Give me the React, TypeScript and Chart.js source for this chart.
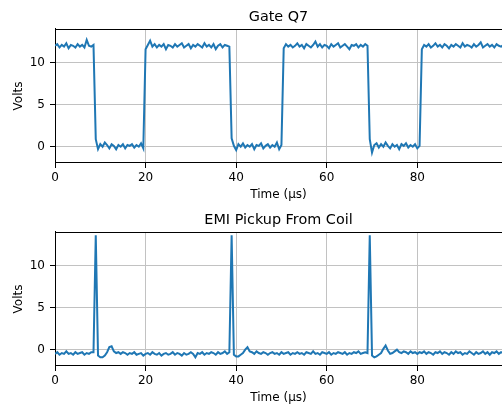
import React, { useEffect, useRef } from "react";
import { Chart, registerables } from "chart.js";

Chart.register(...registerables);

// Sample times (µs)
const TIME_US: number[] = [
  0, 0.5, 1, 1.5, 2, 2.5, 3, 3.5, 4, 4.5, 5, 5.5, 6, 6.5, 7, 7.5, 8, 8.5, 9, 9.5,
  10, 10.5, 11, 11.5, 12, 12.5, 13, 13.5, 14, 14.5, 15, 15.5, 16, 16.5, 17, 17.5, 18, 18.5, 19, 19.5,
  20, 20.5, 21, 21.5, 22, 22.5, 23, 23.5, 24, 24.5, 25, 25.5, 26, 26.5, 27, 27.5, 28, 28.5, 29, 29.5,
  30, 30.5, 31, 31.5, 32, 32.5, 33, 33.5, 34, 34.5, 35, 35.5, 36, 36.5, 37, 37.5, 38, 38.5, 39, 39.5,
  40, 40.5, 41, 41.5, 42, 42.5, 43, 43.5, 44, 44.5, 45, 45.5, 46, 46.5, 47, 47.5, 48, 48.5, 49, 49.5,
  50, 50.5, 51, 51.5, 52, 52.5, 53, 53.5, 54, 54.5, 55, 55.5, 56, 56.5, 57, 57.5, 58, 58.5, 59, 59.5,
  60, 60.5, 61, 61.5, 62, 62.5, 63, 63.5, 64, 64.5, 65, 65.5, 66, 66.5, 67, 67.5, 68, 68.5, 69, 69.5,
  70, 70.5, 71, 71.5, 72, 72.5, 73, 73.5, 74, 74.5, 75, 75.5, 76, 76.5, 77, 77.5, 78, 78.5, 79, 79.5,
  80, 80.5, 81, 81.5, 82, 82.5, 83, 83.5, 84, 84.5, 85, 85.5, 86, 86.5, 87, 87.5, 88, 88.5, 89, 89.5,
  90, 90.5, 91, 91.5, 92, 92.5, 93, 93.5, 94, 94.5, 95, 95.5, 96, 96.5, 97, 97.5, 98, 98.5, 99,
];

// Gate Q7 voltage (V)
const GATE_Q7: number[] = [
  12.0, 12.2, 11.8, 12.1, 11.9, 12.3, 11.7, 12.1, 12.0, 11.8, 12.2, 11.9, 12.1, 11.8, 12.7, 12.0, 11.9, 12.1, 0.9, -0.3,
  0.3, 0.0, 0.5, 0.2, -0.2, 0.3, 0.1, -0.3, 0.2, 0.0, 0.3, -0.2, 0.2, 0.1, 0.3, -0.1, 0.2, 0.0, 0.4, -0.2,
  11.6, 12.1, 12.6, 11.9, 12.2, 11.8, 12.1, 11.9, 12.2, 11.6, 12.1, 12.0, 11.8, 12.2, 11.9, 12.1, 12.3, 11.8, 12.0, 12.2,
  11.7, 12.1, 11.9, 12.2, 12.0, 11.8, 12.3, 11.9, 12.1, 11.8, 12.2, 11.6, 12.0, 12.2, 11.8, 12.1, 12.0, 11.9, 1.0, 0.1,
  -0.4, 0.3, 0.0, 0.4, -0.1, 0.2, 0.0, 0.3, -0.3, 0.2, 0.1, 0.4, -0.2, 0.1, 0.3, -0.1, 0.2, 0.0, 0.5, -0.3,
  0.2, 11.7, 12.2, 11.9, 12.1, 11.8, 12.0, 12.3, 11.9, 12.1, 11.7, 12.2, 12.0, 11.8, 12.1, 12.5, 11.9, 12.2, 11.8, 12.1,
  12.0, 11.7, 12.2, 11.9, 12.1, 12.3, 11.8, 12.0, 12.2, 11.9, 11.6, 12.1, 12.0, 12.2, 11.8, 12.1, 11.9, 12.2, 12.0, 0.9,
  -0.7, 0.2, 0.4, -0.1, 0.3, 0.0, 0.5, 0.1, -0.2, 0.3, 0.0, 0.2, -0.3, 0.3, 0.1, 0.4, -0.1, 0.2, 0.0, 0.3,
  -0.2, 0.1, 11.6, 12.1, 11.9, 12.2, 11.8, 12.0, 12.3, 11.9, 12.1, 11.8, 12.2, 12.0, 11.7, 12.1, 11.9, 12.2, 12.0, 11.8,
  12.3, 11.9, 12.1, 12.0, 11.8, 12.2, 11.9, 12.1, 12.4, 11.8, 12.0, 12.2, 11.9, 12.1, 11.8, 12.2, 12.0, 11.9, 12.1,
];

// EMI pickup from coil (V)
const EMI_PICKUP: number[] = [
  -0.5, -0.3, -0.6, -0.4, -0.5, -0.2, -0.5, -0.4, -0.6, -0.3, -0.5, -0.4, -0.3, -0.6, -0.4, -0.5, -0.3, -0.3, 13.6, -0.7,
  -0.9, -0.9, -0.7, -0.3, 0.3, 0.4, -0.2, -0.4, -0.3, -0.5, -0.3, -0.4, -0.6, -0.4, -0.5, -0.3, -0.6, -0.5, -0.4, -0.7,
  -0.5, -0.4, -0.6, -0.3, -0.5, -0.6, -0.4, -0.7, -0.5, -0.4, -0.6, -0.5, -0.3, -0.6, -0.4, -0.5, -0.7, -0.4, -0.6, -0.5,
  -0.3, -0.5, -0.9, -0.4, -0.5, -0.3, -0.6, -0.4, -0.5, -0.3, -0.4, -0.6, -0.3, -0.5, -0.4, -0.2, -0.5, -0.3, 13.6, -0.6,
  -0.8, -0.8, -0.6, -0.4, 0.0, 0.3, -0.2, -0.3, -0.5, -0.2, -0.4, -0.5, -0.3, -0.4, -0.6, -0.4, -0.3, -0.5, -0.4, -0.6,
  -0.3, -0.5, -0.4, -0.3, -0.6, -0.4, -0.5, -0.3, -0.5, -0.4, -0.6, -0.3, -0.4, -0.5, -0.2, -0.5, -0.4, -0.6, -0.3, -0.4,
  -0.5, -0.3, -0.6, -0.4, -0.5, -0.3, -0.4, -0.5, -0.3, -0.6, -0.4, -0.5, -0.3, -0.4, -0.2, -0.5, -0.4, -0.3, -0.4, 13.6,
  -0.7, -0.9, -0.8, -0.6, -0.4, 0.1, 0.5, -0.1, -0.5, -0.4, -0.2, 0.0, -0.3, -0.4, -0.2, -0.3, -0.5, -0.2, -0.4, -0.3,
  -0.5, -0.3, -0.4, -0.2, -0.5, -0.3, -0.4, -0.6, -0.3, -0.4, -0.2, -0.5, -0.3, -0.4, -0.6, -0.3, -0.5, -0.2, -0.4, -0.3,
  -0.6, -0.4, -0.5, -0.2, -0.4, -0.6, -0.3, -0.5, -0.4, -0.2, -0.5, -0.3, -0.6, -0.3, -0.4, -0.2, -0.5, -0.3, -0.4,
];

const X_TICKS = [0, 20, 40, 60, 80];
const Y_TICKS = [0, 5, 10];
const X_RANGE = [0, 98.7];
const Y_RANGE = [-1.94, 14.0];

const FONT = "'DejaVu Sans', sans-serif";
const LINE_COLOR = "#1f77b4";
const GRID_COLOR = "#c2c2c2";

const topSpine = {
  id: "topSpine",
  afterDraw(chart: any) {
    const { ctx, chartArea: a } = chart;
    ctx.save();
    ctx.strokeStyle = "#000";
    ctx.lineWidth = 1;
    ctx.beginPath();
    const y = Math.round(a.top) + 0.5;
    ctx.moveTo(a.left, y);
    ctx.lineTo(a.right, y);
    ctx.stroke();
    ctx.restore();
  },
};

function Panel({ title, values, height }: { title: string; values: number[]; height: number }) {
  const ref = useRef<HTMLCanvasElement | null>(null);
  useEffect(() => {
    if (!ref.current) return;
    const chart = new Chart(ref.current, {
      type: "line",
      data: {
        datasets: [
          {
            data: TIME_US.map((t, i) => ({ x: t, y: values[i] })),
            borderColor: LINE_COLOR,
            borderWidth: 2,
            pointRadius: 0,
            tension: 0,
            fill: false,
          },
        ],
      },
      options: {
        animation: false,
        responsive: false,
        devicePixelRatio: 1,
        layout: { padding: 0 },
        plugins: {
          legend: { display: false },
          tooltip: { enabled: false },
          title: {
            display: true,
            text: title,
            fullSize: false,
            color: "#000",
            font: { family: FONT, size: 14.4, weight: "normal" },
            padding: { top: 8.2, bottom: 3.5 },
          },
        },
        scales: {
          x: {
            type: "linear",
            min: X_RANGE[0],
            max: X_RANGE[1],
            afterBuildTicks: (ax: any) => {
              ax.ticks = X_TICKS.map((v) => ({ value: v }));
            },
            afterFit: (ax: any) => {
              ax.height = height - 163;
            },
            grid: { color: GRID_COLOR, lineWidth: 1, tickLength: 5, tickColor: "#000", tickWidth: 1 },
            border: { color: "#000", width: 1 },
            ticks: { color: "#000", font: { family: FONT, size: 12 }, padding: 3, maxRotation: 0, autoSkip: false },
            title: {
              display: true,
              text: "Time (μs)",
              color: "#000",
              font: { family: FONT, size: 12 },
              padding: { top: 0, bottom: height - 195 - 7.2 },
            },
          },
          y: {
            type: "linear",
            min: Y_RANGE[0],
            max: Y_RANGE[1],
            afterBuildTicks: (ax: any) => {
              ax.ticks = Y_TICKS.map((v) => ({ value: v }));
            },
            afterFit: (ax: any) => {
              ax.width = 55;
            },
            grid: { color: GRID_COLOR, lineWidth: 1, tickLength: 5, tickColor: "#000", tickWidth: 1 },
            border: { color: "#000", width: 1 },
            ticks: { color: "#000", font: { family: FONT, size: 12 }, padding: 5 },
            title: {
              display: true,
              text: "Volts",
              color: "#000",
              font: { family: FONT, size: 12 },
              padding: { top: 11.6, bottom: 0 },
            },
          },
        },
      },
      plugins: [topSpine],
    });
    return () => chart.destroy();
  }, [title, values, height]);
  return <canvas ref={ref} width={502} height={height} style={{ display: "block", width: 502, height }} />;
}

export default function App() {
  return (
    <div style={{ position: "fixed", left: 0, top: 0, width: 502, height: 408, background: "#fff" }}>
      <Panel title="Gate Q7" values={GATE_Q7} height={203} />
      <Panel title="EMI Pickup From Coil" values={EMI_PICKUP} height={205} />
    </div>
  );
}
